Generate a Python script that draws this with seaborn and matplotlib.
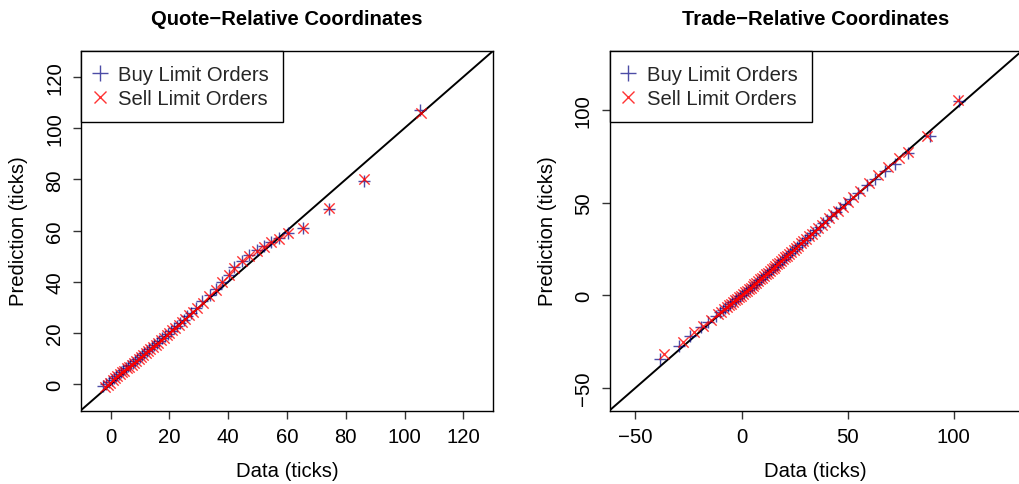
import matplotlib
matplotlib.use("Agg")
import matplotlib.pyplot as plt
import seaborn as sns
from matplotlib.lines import Line2D

# ---------------- data ----------------
quote_buy_x = [-2.5, -1.5, -0.6, 0.3, 1.1, 1.9, 2.7, 3.5, 4.3, 5.1, 5.9, 6.7, 7.5, 8.3, 9.1, 9.9,
               10.7, 11.5, 12.3, 13.1, 13.9, 14.8, 15.7, 16.6, 17.5, 18.4, 19.4, 20.4, 21.4, 22.5,
               23.6, 24.8, 26.0, 27.3, 29.1, 31.0, 33.9, 35.7, 38.0, 40.1, 41.8, 44.8, 47.2, 49.8,
               52.1, 54.7, 57.2, 60.3, 65.3, 74.2, 86.2, 105.2]
quote_buy_y = [-0.8, 0.2, 1.0, 1.8, 2.6, 3.3, 4.0, 4.8, 5.5, 6.2, 7.0, 7.7, 8.5, 9.2, 10.0, 10.8,
               11.5, 12.3, 13.0, 13.8, 14.5, 15.4, 16.2, 17.1, 17.9, 18.8, 19.8, 20.8, 21.8, 22.9,
               24.0, 25.3, 26.6, 28.0, 29.8, 32.6, 34.9, 37.1, 40.0, 42.8, 45.7, 48.2, 50.4, 52.4,
               53.8, 55.6, 57.0, 59.2, 60.9, 68.3, 79.3, 106.9]
quote_sell_x = [-2.0, -1.0, -0.2, 0.7, 1.5, 2.3, 3.1, 3.9, 4.7, 5.5, 6.3, 7.1, 7.9, 8.7, 9.5, 10.3,
                11.1, 11.9, 12.7, 13.5, 14.4, 15.3, 16.2, 17.1, 18.0, 19.0, 20.0, 21.0, 22.0, 23.1,
                24.2, 25.4, 26.6, 27.9, 29.5, 31.5, 33.5, 35.9, 38.0, 40.1, 41.8, 44.8, 47.2, 49.8,
                52.1, 54.7, 57.2, 60.3, 65.3, 74.2, 86.2, 105.5]
quote_sell_y = [-1.0, -0.1, 0.7, 1.6, 2.4, 3.1, 3.9, 4.7, 5.4, 6.2, 6.9, 7.7, 8.5, 9.2, 10.0, 10.7,
                11.5, 12.2, 13.0, 13.7, 14.6, 15.5, 16.3, 17.2, 18.1, 19.1, 20.1, 21.1, 22.1, 23.2,
                24.3, 25.6, 26.9, 28.3, 29.9, 31.8, 34.5, 37.0, 39.8, 42.6, 45.5, 48.0, 50.1, 52.0,
                53.6, 55.4, 56.9, 59.0, 61.0, 69.0, 80.0, 106.0]

trade_buy_x = [-38.3, -29.6, -24.1, -19.0, -15.9, -12.0, -10.2, -8.9, -7.6, -6.4, -5.3, -4.3, -3.3,
               -2.4, -1.5, -0.6, 0.3, 1.2, 2.1, 3.0, 3.9, 4.8, 5.7, 6.6, 7.5, 8.4, 9.3, 10.2, 11.1,
               12.0, 12.9, 13.8, 14.7, 15.6, 16.5, 17.4, 18.3, 19.2, 20.1, 21.0, 22.0, 23.0, 24.0,
               25.1, 26.2, 27.3, 28.5, 29.7, 31.0, 32.3, 33.7, 35.2, 36.8, 38.5, 40.3, 42.2, 44.3,
               46.5, 48.8, 51.0, 54.9, 58.9, 62.8, 67.5, 72.3, 78.6, 88.8, 102.7]
trade_buy_y = [-34.3, -27.2, -21.8, -17.3, -14.6, -11.0, -9.2, -8.0, -6.8, -5.7, -4.7, -3.8, -2.9,
               -2.1, -1.3, -0.5, 0.4, 1.2, 2.1, 2.9, 3.8, 4.6, 5.5, 6.4, 7.3, 8.2, 9.1, 10.0, 10.9,
               11.8, 12.7, 13.6, 14.5, 15.4, 16.3, 17.2, 18.1, 19.0, 19.9, 20.9, 21.9, 22.9, 23.9,
               25.0, 26.1, 27.3, 28.5, 29.8, 31.1, 32.5, 33.9, 35.5, 37.1, 38.9, 40.7, 42.7, 44.8,
               47.0, 49.3, 51.9, 55.5, 59.5, 63.0, 67.2, 71.2, 77.1, 86.0, 104.9]
trade_sell_x = [-36.4, -27.7, -22.2, -18.0, -14.5, -11.3, -9.7, -8.3, -7.0, -5.9, -4.8, -3.8, -2.9,
                -2.0, -1.1, -0.2, 0.7, 1.6, 2.5, 3.4, 4.3, 5.2, 6.1, 7.0, 7.9, 8.8, 9.7, 10.6, 11.5,
                12.4, 13.3, 14.2, 15.1, 16.0, 16.9, 17.8, 18.7, 19.6, 20.5, 21.5, 22.5, 23.5, 24.6,
                25.7, 26.8, 28.0, 29.2, 30.4, 31.7, 33.1, 34.6, 36.1, 37.8, 39.5, 41.3, 43.3, 45.4,
                47.6, 50.0, 52.5, 56.0, 60.0, 64.5, 69.0, 74.0, 78.6, 87.2, 101.9]
trade_sell_y = [-31.6, -25.0, -20.0, -16.4, -13.2, -10.3, -8.9, -7.6, -6.4, -5.4, -4.4, -3.5, -2.6,
                -1.8, -1.0, -0.1, 0.7, 1.6, 2.5, 3.3, 4.2, 5.1, 6.0, 6.9, 7.8, 8.7, 9.6, 10.5, 11.4,
                12.3, 13.2, 14.1, 15.0, 15.9, 16.8, 17.7, 18.6, 19.6, 20.5, 21.5, 22.5, 23.6, 24.7,
                25.8, 26.9, 28.1, 29.3, 30.6, 31.9, 33.3, 34.8, 36.4, 38.1, 39.8, 41.7, 43.7, 45.8,
                48.0, 50.5, 53.0, 56.6, 60.6, 65.0, 69.5, 74.3, 77.5, 86.0, 105.3]

titles = ["Quote\u2212Relative Coordinates", "Trade\u2212Relative Coordinates"]
series_labels = ["Buy Limit Orders", "Sell Limit Orders"]
x_label = "Data (ticks)"
y_label = "Prediction (ticks)"
quote_ticks = [0, 20, 40, 60, 80, 100, 120]
trade_ticks = [-50, 0, 50, 100]
quote_lim = (-10.2, 130.2)
trade_lim = (-62.2, 132.2)

# ---------------- style ----------------
sns.set_theme(style="ticks")
plt.rcParams["font.family"] = ["Liberation Sans", "DejaVu Sans"]
plt.rcParams["axes.unicode_minus"] = True
FS = 14.6
BUY_C = (0.0, 0.0, 0.5)
SELL_C = (1.0, 0.0, 0.0)

W, H = 1019, 485
fig = plt.figure(figsize=(W / 100, H / 100), dpi=100)
bottom = (H - 411.5) / H
height = (411.5 - 51.7) / H
axw = 412.6 / W
ax1 = fig.add_axes([80.7 / W, bottom, axw, height])
ax2 = fig.add_axes([609.5 / W, bottom, axw, height])

panels = [
    (ax1, quote_buy_x, quote_buy_y, quote_sell_x, quote_sell_y, quote_ticks, quote_lim, titles[0]),
    (ax2, trade_buy_x, trade_buy_y, trade_sell_x, trade_sell_y, trade_ticks, trade_lim, titles[1]),
]

for ax, bx, by, sx, sy, ticks, lim, title in panels:
    sns.scatterplot(x=bx, y=by, marker="+", color=BUY_C, s=85, linewidth=1.0,
                    alpha=0.7, ax=ax, legend=False, zorder=3)
    sns.scatterplot(x=sx, y=sy, marker="x", color=SELL_C, s=55, linewidth=1.0,
                    alpha=0.8, ax=ax, legend=False, zorder=4)
    ax.axline((0, 0), slope=1, color="black", lw=1.4, zorder=2)
    ax.set_xlim(*lim)
    ax.set_ylim(*lim)
    ax.set_xticks(ticks)
    ax.set_yticks(ticks)
    ax.set_xticklabels([str(t).replace("-", "\u2212") for t in ticks], fontsize=FS)
    ax.set_yticklabels([str(t).replace("-", "\u2212") for t in ticks], fontsize=FS,
                       rotation=90, va="center")
    ax.tick_params(axis="both", direction="out", length=6, width=1.0, color="#333333",
                   labelcolor="black", pad=6)
    for sp in ax.spines.values():
        sp.set_visible(True)
        sp.set_color("black")
        sp.set_linewidth(1.0)
    ax.set_xlabel(x_label, fontsize=FS, labelpad=11, color="black")
    ax.set_ylabel(y_label, fontsize=FS, labelpad=12, color="black")
    ax.set_title(title, fontsize=FS, fontweight="bold", pad=19, color="black")
    handles = [
        Line2D([], [], marker="+", color=BUY_C, ls="none", markersize=11, mew=1.0, alpha=0.7),
        Line2D([], [], marker="x", color=SELL_C, ls="none", markersize=8.5, mew=1.0, alpha=0.8),
    ]
    leg = ax.legend(handles, series_labels, loc="upper left", fontsize=FS,
                    borderaxespad=0, frameon=True, fancybox=False, framealpha=1,
                    edgecolor="black", handlelength=0.46, handletextpad=0.67,
                    borderpad=0.7, labelspacing=0.25)
    leg.get_frame().set_linewidth(1.0)

fig.savefig("out.png", dpi=100)
